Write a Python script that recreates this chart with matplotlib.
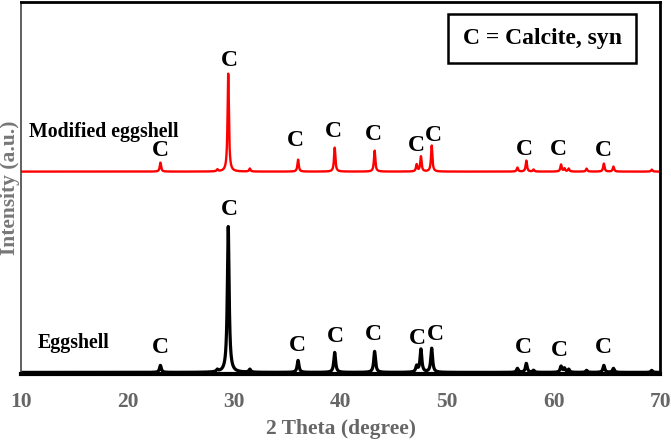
import numpy as np
import matplotlib
matplotlib.use("Agg")
import matplotlib.pyplot as plt

# Peak positions (2 theta), heights (arbitrary units)
peak_pos = [23.05, 28.4, 29.42, 31.45, 35.98, 39.42, 43.17, 47.12, 47.52, 48.53,
            56.58, 57.42, 58.1, 60.68, 61.0, 61.4, 63.08, 64.7, 65.6, 69.2]
eggshell_h = [7, 2, 146, 3, 12, 20, 21, 6, 23, 24,
              4, 9, 2, 6, 4, 3, 2, 7, 4, 2]
modified_h = [9, 2, 98, 3, 12, 24, 21, 7, 15, 26,
              4, 11, 2, 7, 3, 3, 3, 8, 5, 2]
eggshell_base = 2
modified_base = 203

# "C" label positions (2 theta, height)
egg_lbl_x = [23.0, 29.5, 35.9, 39.5, 43.1, 47.2, 48.9, 57.1, 60.5, 64.7]
egg_lbl_y = [21, 160, 23, 32, 34, 30, 34, 21, 18, 21]
mod_lbl_x = [23.0, 29.5, 35.7, 39.3, 43.1, 47.1, 48.7, 57.2, 60.4, 64.7]
mod_lbl_y = [219, 309, 229, 238, 235, 224, 234, 220, 220, 219]

x = np.arange(10, 70.001, 0.005)


def profile(pos, hts, base, fwhm):
    y = np.full_like(x, float(base))
    g = fwhm / 2.0
    for p, h in zip(pos, hts):
        y += h / (1.0 + ((x - p) / g) ** 2)
    return y


y_egg = profile(peak_pos, eggshell_h, eggshell_base, 0.2)
y_mod = profile(peak_pos, modified_h, modified_base, 0.15)

plt.rcParams['font.family'] = ['Liberation Serif', 'DejaVu Serif']
plt.rcParams['font.weight'] = 'bold'

fig = plt.figure(figsize=(6.71, 4.41), dpi=100)
ax = fig.add_axes([0.032, 0.151, 0.952, 0.845])

ax.plot(x, y_egg, color='black', lw=2.3)
ax.plot(x, y_mod, color='#ff0000', lw=1.7)

for lx, ly in zip(egg_lbl_x, egg_lbl_y):
    ax.text(lx, ly, 'C', ha='center', va='baseline', fontsize=17, fontweight='bold')
for lx, ly in zip(mod_lbl_x, mod_lbl_y):
    ax.text(lx, ly, 'C', ha='center', va='baseline', fontsize=17, fontweight='bold')

ax.text(10.7, 238, 'Modified eggshell', ha='left', va='baseline', fontsize=14.3, fontweight='bold')
ax.text(11.5, 26, 'Eggshell', ha='left', va='baseline', fontsize=14.3, fontweight='bold')

ax.text(0.815, 0.902, 'C = Calcite, syn', transform=ax.transAxes, ha='center', va='center',
        fontsize=17, fontweight='bold',
        bbox=dict(boxstyle='square,pad=0.6', fc='white', ec='black', lw=1.8))

ax.set_xlim(10, 70)
ax.set_ylim(0, 373)
ax.set_xticks([10, 20, 30, 40, 50, 60, 70])
ax.set_yticks([])
ax.tick_params(axis='x', length=0, pad=13, labelsize=15.5, labelcolor='#666666')
for lbl in ax.get_xticklabels():
    lbl.set_fontweight('bold')
ax.set_xlabel('2 Theta (degree)', fontsize=15.5, fontweight='bold', color='#666666', labelpad=5)
ax.set_ylabel('Intensity (a.u.)', fontsize=15.5, fontweight='bold', color='#777777', labelpad=1)

ax.spines['bottom'].set_linewidth(3)
ax.spines['left'].set_linewidth(1.2)
ax.spines['left'].set_color('#444444')
ax.spines['right'].set_linewidth(2)
ax.spines['top'].set_linewidth(2)

fig.savefig('out.png', dpi=100)
